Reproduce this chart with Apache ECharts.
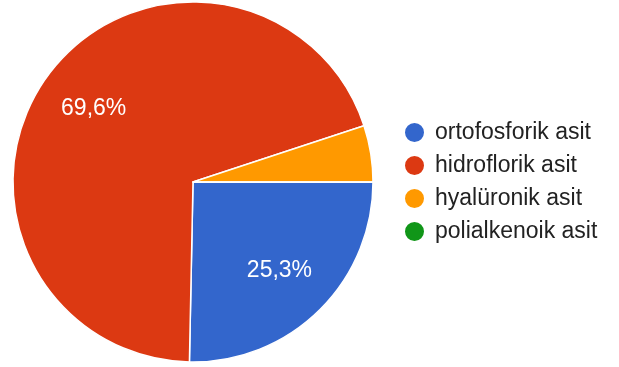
<!DOCTYPE html>
<html><head><meta charset="utf-8">
<script src="https://cdn.jsdelivr.net/npm/echarts@6/dist/echarts.min.js"></script>
<style>html,body{margin:0;padding:0;background:#fff}#c{width:619px;height:367px}</style>
</head><body><div id="c"></div>
<script>
const categories = ['ortofosforik asit', 'hidroflorik asit', 'hyalüronik asit', 'polialkenoik asit'];
const counts = [20, 55, 4, 0];
const colors = ['#3366cc', '#dc3912', '#ff9900', '#109618'];

const chart = echarts.init(document.getElementById('c'), null, {renderer: 'canvas'});
const data = categories.map((n, i) => ({name: n, value: counts[i], itemStyle: {color: colors[i]}}));
const fmt = p => p.percent >= 10 ? p.percent.toFixed(1).replace('.', ',') + '%' : '';
const FONT = '"Liberation Sans", Arial, sans-serif';
chart.setOption({
  animation: false,
  legend: {
    orient: 'vertical', left: 398, top: 116,
    icon: 'circle', itemWidth: 21, itemHeight: 21, itemGap: 10,
    data: categories.map((n, i) => ({name: n, itemStyle: {color: colors[i]}})),
    textStyle: {fontFamily: FONT, fontSize: 23, lineHeight: 23, color: '#222', padding: [0, 0, 0, 5]},
    selectedMode: false
  },
  series: [{
    type: 'pie', center: [193, 182], radius: [0, 180], startAngle: 0, clockwise: true,
    data: data, label: {show: false}, labelLine: {show: false},
    itemStyle: {borderColor: '#fff', borderWidth: 1.5}, silent: true
  }, {
    type: 'pie', center: [193, 182], radius: [61, 180], startAngle: 0, clockwise: true,
    data: categories.map((n, i) => ({name: n, value: counts[i], itemStyle: {color: 'rgba(0,0,0,0)'}})),
    label: {show: true, position: 'inside', formatter: fmt, color: '#fff', fontSize: 23, fontFamily: FONT},
    labelLine: {show: false}, silent: true, legendHoverLink: false
  }]
});
</script></body></html>
